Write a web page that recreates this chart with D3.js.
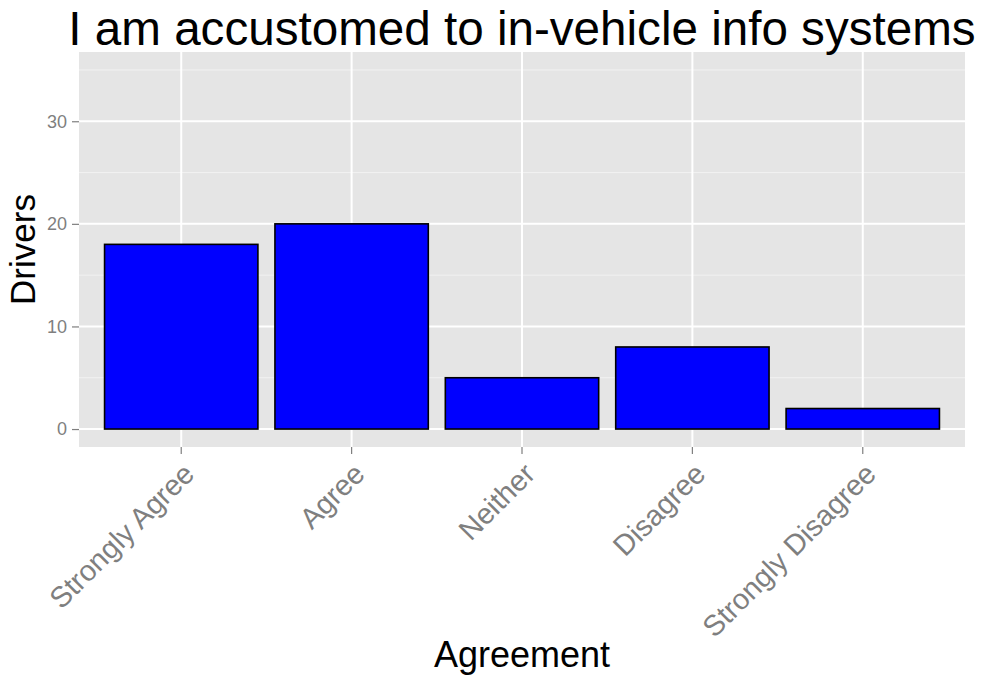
<!DOCTYPE html>
<html>
<head>
<meta charset="utf-8">
<script src="https://cdn.jsdelivr.net/npm/d3@7"></script>
<style>
  html, body { margin: 0; padding: 0; background: #fff; }
  svg { display: block; }
  text { font-family: "Liberation Sans", Arial, sans-serif; }
</style>
</head>
<body>
<svg id="chart" width="984" height="681"></svg>
<script>
const categories = ["Strongly Agree", "Agree", "Neither", "Disagree", "Strongly Disagree"];
const drivers = [18, 20, 5, 8, 2];
const yTicks = [0, 10, 20, 30];
const yMinorTicks = [5, 15, 25, 35];
const title = "I am accustomed to in-vehicle info systems";
const xTitle = "Agreement";
const yTitle = "Drivers";

const W = 984, H = 681;
const panel = { left: 79, right: 965, top: 52, bottom: 447 };

const svg = d3.select("#chart");

const x = d3.scaleBand()
  .domain(categories)
  .range([panel.left, panel.right])
  .paddingInner(0.1)
  .paddingOuter(0.15);

const y = d3.scaleLinear()
  .domain([-1.75, 36.75])
  .range([panel.bottom, panel.top]);

// panel background
svg.append("rect")
  .attr("x", panel.left).attr("y", panel.top)
  .attr("width", panel.right - panel.left)
  .attr("height", panel.bottom - panel.top)
  .attr("fill", "#E5E5E5");

// minor grid
svg.append("g").selectAll("line").data(yMinorTicks).join("line")
  .attr("x1", panel.left).attr("x2", panel.right)
  .attr("y1", d => y(d)).attr("y2", d => y(d))
  .attr("stroke", "#F2F2F2").attr("stroke-width", 1);

// major grid
svg.append("g").selectAll("line").data(yTicks).join("line")
  .attr("x1", panel.left).attr("x2", panel.right)
  .attr("y1", d => y(d)).attr("y2", d => y(d))
  .attr("stroke", "#FFFFFF").attr("stroke-width", 2);

svg.append("g").selectAll("line").data(categories).join("line")
  .attr("x1", d => x(d) + x.bandwidth() / 2).attr("x2", d => x(d) + x.bandwidth() / 2)
  .attr("y1", panel.top).attr("y2", panel.bottom)
  .attr("stroke", "#FFFFFF").attr("stroke-width", 2);

// bars
svg.append("g").selectAll("rect").data(categories).join("rect")
  .attr("x", d => x(d))
  .attr("width", x.bandwidth())
  .attr("y", (d, i) => y(drivers[i]))
  .attr("height", (d, i) => y(0) - y(drivers[i]))
  .attr("fill", "#0000FF")
  .attr("stroke", "#000000")
  .attr("stroke-width", 1.6);

// y axis
const yAxis = d3.axisLeft(y).tickValues(yTicks).tickSize(7).tickPadding(5).tickFormat(d3.format("d"));
const gy = svg.append("g").attr("transform", `translate(${panel.left},0)`).call(yAxis);
gy.select(".domain").remove();
gy.selectAll(".tick line").attr("stroke", "#7F7F7F").attr("stroke-width", 1.2);
gy.selectAll(".tick text")
  .attr("fill", "#7F7F7F")
  .style("font-size", "18px")
  .style("font-family", "'Liberation Sans', Arial, sans-serif");

// x axis
const xAxis = d3.axisBottom(x).tickSize(7).tickPadding(0);
const gx = svg.append("g").attr("transform", `translate(0,${panel.bottom})`).call(xAxis);
gx.select(".domain").remove();
gx.selectAll(".tick line").attr("stroke", "#7F7F7F").attr("stroke-width", 1.2);
gx.selectAll(".tick text")
  .attr("fill", "#7F7F7F")
  .attr("text-anchor", "end")
  .attr("y", 0).attr("dy", "0.72em")
  .attr("transform", "translate(0,14) rotate(-45)")
  .style("font-size", "29px")
  .style("font-family", "'Liberation Sans', Arial, sans-serif");

// titles
svg.append("text")
  .attr("x", (panel.left + panel.right) / 2).attr("y", 45)
  .attr("text-anchor", "middle")
  .attr("fill", "#000")
  .style("font-size", "47.6px")
  .text(title);

svg.append("text")
  .attr("x", (panel.left + panel.right) / 2).attr("y", 667)
  .attr("text-anchor", "middle")
  .attr("fill", "#000")
  .style("font-size", "36px")
  .text(xTitle);

svg.append("text")
  .attr("transform", `translate(35,${(panel.top + panel.bottom) / 2}) rotate(-90)`)
  .attr("text-anchor", "middle")
  .attr("fill", "#000")
  .style("font-size", "35px")
  .text(yTitle);
</script>
</body>
</html>
